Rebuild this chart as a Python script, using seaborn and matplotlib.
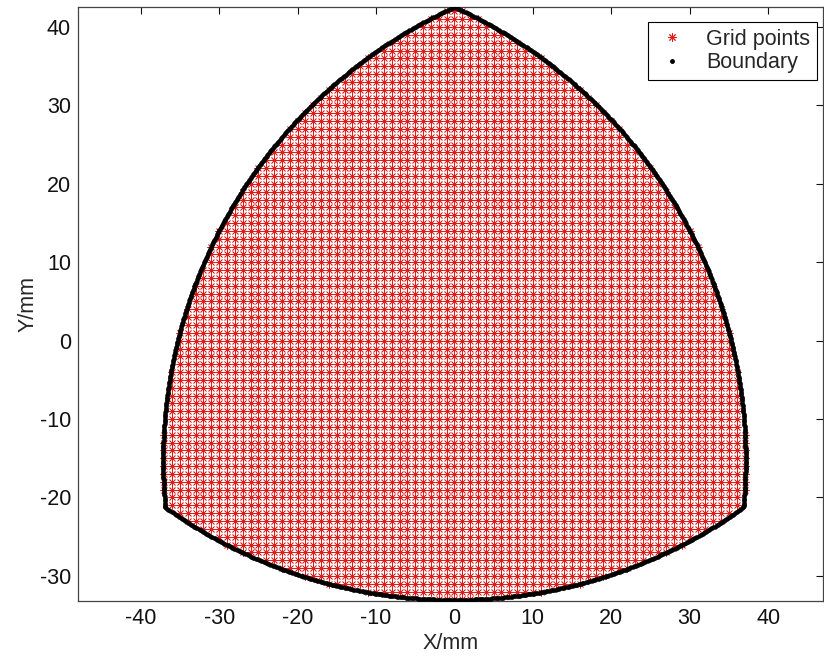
import numpy as np
import pandas as pd
import matplotlib
matplotlib.use("Agg")
import matplotlib.pyplot as plt
from matplotlib.lines import Line2D
import seaborn as sns

# Curved-triangle cam profile (mm)
vertex_radius = 42.55      # distance of each corner from the origin
arc_radius = 63.5          # radius of each convex side
vertex_angles_deg = [90.0, 210.0, 330.0]
grid_step = 1.0            # spacing of the interior grid
boundary_samples = 500     # points per side

x_ticks = [-40, -30, -20, -10, 0, 10, 20, 30, 40]
y_ticks = [-30, -20, -10, 0, 10, 20, 30, 40]
x_limits = (-48.0, 47.0)
y_limits = (-33.2, 42.55)
legend_labels = ["Grid points", "Boundary"]

# Corners and the centres of the opposite arcs
ang = np.deg2rad(vertex_angles_deg)
corners = np.c_[vertex_radius * np.cos(ang), vertex_radius * np.sin(ang)]
half_side = np.linalg.norm(corners[1] - corners[2]) / 2
apothem = vertex_radius / 2
centre_dist = np.sqrt(arc_radius**2 - half_side**2) - apothem
centres = np.c_[centre_dist * np.cos(ang), centre_dist * np.sin(ang)]

# Boundary: each side is an arc centred near the corner facing it
bx, by = [], []
for i in range(3):
    c = centres[i]
    p, q = corners[(i + 1) % 3], corners[(i + 2) % 3]
    a0 = np.arctan2(p[1] - c[1], p[0] - c[0])
    a1 = np.arctan2(q[1] - c[1], q[0] - c[0])
    if a1 < a0:
        a1 += 2 * np.pi
    t = np.linspace(a0, a1, boundary_samples)
    bx.append(c[0] + arc_radius * np.cos(t))
    by.append(c[1] + arc_radius * np.sin(t))
bx = np.concatenate(bx)
by = np.concatenate(by)

# Interior grid: integer lattice points inside all three discs
gx, gy = np.meshgrid(np.arange(-40, 41, grid_step), np.arange(-35, 45, grid_step))
gx, gy = gx.ravel(), gy.ravel()
inside = np.ones_like(gx, dtype=bool)
for c in centres:
    inside &= (gx - c[0])**2 + (gy - c[1])**2 <= arc_radius**2
grid = pd.DataFrame({"x": gx[inside], "y": gy[inside]})
boundary = pd.DataFrame({"x": bx, "y": by})

sns.set_style("white")
plt.rcParams["font.family"] = ["Liberation Sans", "DejaVu Sans"]
plt.rcParams["axes.unicode_minus"] = False

fig = plt.figure(figsize=(8.24, 6.59), dpi=100)
ax = fig.add_axes([78 / 824, 58 / 659, 745 / 824, 594 / 659])

grid_red = "#dd1c1c"
asterisk = (8, 2, 0)
sns.scatterplot(data=grid, x="x", y="y", ax=ax, marker=asterisk, color=grid_red,
                s=30, linewidth=0.55, legend=False, zorder=2)
sns.scatterplot(data=boundary, x="x", y="y", ax=ax, marker="o", color="black",
                s=10, linewidth=0, legend=False, zorder=3)

ax.set_xlim(*x_limits)
ax.set_ylim(*y_limits)
ax.set_xticks(x_ticks)
ax.set_yticks(y_ticks)
ax.tick_params(direction="in", length=5, width=0.8, top=True, right=True,
               labelsize=15.5, colors="#111111", pad=5)
for sp in ax.spines.values():
    sp.set_visible(True)
    sp.set_color("#444444")
    sp.set_linewidth(0.9)
ax.set_xlabel("X/mm", fontsize=15.5, labelpad=3)
ax.set_ylabel("Y/mm", fontsize=15.5, labelpad=1)

handles = [
    Line2D([], [], linestyle="none", marker=asterisk, color=grid_red,
           markersize=6, markeredgewidth=0.7),
    Line2D([], [], linestyle="none", marker="o", color="black",
           markersize=2.5),
]
leg = ax.legend(handles, legend_labels, loc="upper right",
                bbox_to_anchor=(1.0, 0.985), fontsize=15.5, frameon=True,
                fancybox=False, edgecolor="black", framealpha=1,
                borderpad=0.3, handlelength=1.6, handletextpad=0.8,
                labelspacing=0.12, borderaxespad=0.3)
leg.get_frame().set_linewidth(0.8)

fig.savefig("out.png", dpi=100)
